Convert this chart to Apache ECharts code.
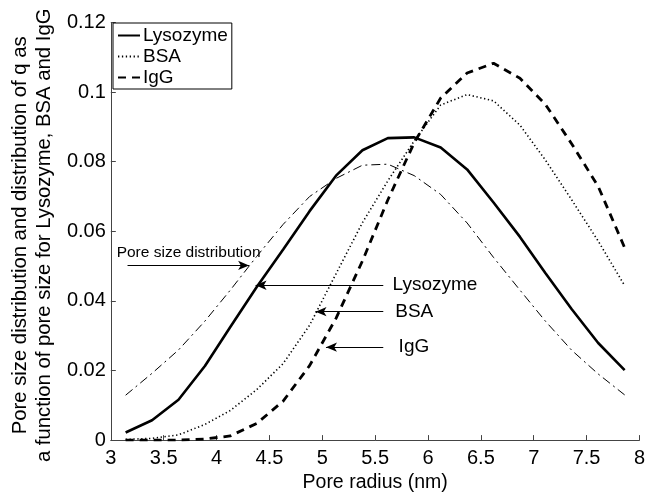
<!DOCTYPE html>
<html>
<head>
<meta charset="utf-8">
<script src="https://cdn.jsdelivr.net/npm/echarts@6/dist/echarts.min.js"></script>
<style>
html,body{margin:0;padding:0;background:#fff;}
#chart{width:648px;height:498px;}
</style>
</head>
<body>
<div id="chart"></div>
<script>
// Pore radius (nm)
const radius = [3.14,3.39,3.64,3.89,4.13,4.38,4.63,4.88,5.13,5.38,5.62,5.87,6.12,6.37,6.62,6.87,7.11,7.36,7.61,7.86];
const lysozyme = [0.0022,0.0057,0.0116,0.0213,0.0325,0.0440,0.0548,0.0658,0.0760,0.0833,0.0868,0.0870,0.0841,0.0778,0.0683,0.0584,0.0480,0.0376,0.0279,0.0201];
const bsa = [0.0002,0.0005,0.0015,0.0045,0.0085,0.0145,0.0220,0.0330,0.0478,0.0625,0.0745,0.0860,0.0963,0.0993,0.0975,0.0905,0.0805,0.0690,0.0572,0.0444];
const igg = [0,0,0,0.0003,0.0012,0.0048,0.0112,0.0214,0.0350,0.0515,0.0690,0.0855,0.0983,0.1055,0.1083,0.1040,0.0965,0.0851,0.0729,0.0553];
const poreDist = [0.0129,0.0192,0.0259,0.0342,0.0431,0.0528,0.0620,0.0700,0.0752,0.0790,0.0793,0.0760,0.0706,0.0624,0.0525,0.0431,0.0342,0.0258,0.0190,0.0130];

// Annotation arrows: [startX, tipX, y] and labels
const arrowStart = [3.158, 5.577, 5.577, 5.577];
const arrowTip = [4.308, 4.369, 4.936, 5.035];
const arrowY = [0.0502, 0.0445, 0.0369, 0.0267];
const labelText = ['Pore size distribution', 'Lysozyme', 'BSA', 'IgG'];
const labelX = [3.055, 5.665, 5.690, 5.722];
const labelY = [0.0539, 0.0445, 0.0369, 0.0267];

const FONT = 'Liberation Sans, Arial, Helvetica, sans-serif';
const pairs = arr => radius.map((x, i) => [x, arr[i]]);

const chart = echarts.init(document.getElementById('chart'), null, {renderer: 'canvas'});

const markData = arrowStart.map((s, i) => [
  {coord: [s, arrowY[i]]},
  {coord: [arrowTip[i], arrowY[i]]}
]);

const option = {
  animation: false,
  backgroundColor: '#fff',
  textStyle: {fontFamily: FONT},
  grid: {left: 106, right: 4, top: 22, bottom: 53, containLabel: false},
  legend: {
    data: ['Lysozyme', 'BSA', 'IgG'],
    orient: 'vertical',
    left: 113,
    top: 23,
    padding: [3, 4, 2, 4],
    itemGap: 2,
    itemWidth: 22,
    itemHeight: 10,
    borderColor: '#000',
    borderWidth: 1,
    backgroundColor: '#fff',
    itemStyle: {color: 'rgba(0,0,0,0)', borderColor: 'rgba(0,0,0,0)', borderWidth: 0},
    textStyle: {fontFamily: FONT, fontSize: 19, color: '#000', padding: [0, 0, 0, -2]},
    selectedMode: false
  },
  xAxis: {
    type: 'value',
    min: 3, max: 8, interval: 0.5,
    name: 'Pore radius (nm)',
    nameLocation: 'middle',
    nameGap: 31,
    nameTextStyle: {fontFamily: FONT, fontSize: 19.5, color: '#000'},
    axisLine: {show: true, onZero: false, lineStyle: {color: '#444', width: 1}},
    axisTick: {show: true, inside: true, length: 5, lineStyle: {color: '#444'}},
    axisLabel: {fontFamily: FONT, fontSize: 20, color: '#000', margin: 8},
    splitLine: {show: false}
  },
  yAxis: {
    type: 'value',
    min: 0, max: 0.12, interval: 0.02,
    name: 'Pore size distribution and distribution of q as\na function of pore size for Lysozyme, BSA and IgG',
    nameLocation: 'middle',
    nameRotate: 90,
    nameGap: 52,
    nameTextStyle: {fontFamily: FONT, fontSize: 20.3, color: '#000', lineHeight: 24, align: 'center', padding: [0, 8, 0, 0]},
    axisLine: {show: true, lineStyle: {color: '#444', width: 1}},
    axisTick: {show: true, inside: true, length: 5, lineStyle: {color: '#444'}},
    axisLabel: {fontFamily: FONT, fontSize: 20, color: '#000', margin: 5},
    splitLine: {show: false}
  },
  series: [
    {
      name: 'Lysozyme', type: 'line', data: pairs(lysozyme),
      symbol: 'none', showSymbol: false,
      lineStyle: {color: '#000', width: 2.6, type: 'solid'},
      itemStyle: {color: '#000'}
    },
    {
      name: 'BSA', type: 'line', data: pairs(bsa),
      symbol: 'none', showSymbol: false,
      lineStyle: {color: '#000', width: 1.6, type: [1.3, 2.6]},
      itemStyle: {color: '#000'}
    },
    {
      name: 'IgG', type: 'line', data: pairs(igg),
      symbol: 'none', showSymbol: false,
      lineStyle: {color: '#000', width: 2.8, type: [8, 6]},
      itemStyle: {color: '#000'}
    },
    {
      name: 'Pore size distribution', type: 'line', data: pairs(poreDist),
      symbol: 'none', showSymbol: false,
      lineStyle: {color: '#000', width: 1, type: [9, 4, 2, 4]},
      itemStyle: {color: '#000'},
      markLine: {
        silent: true,
        animation: false,
        symbol: ['none', 'arrow'],
        symbolSize: [7, 11],
        label: {show: false},
        lineStyle: {color: '#000', width: 1.2, type: 'solid'},
        emphasis: {disabled: true},
        data: markData
      }
    }
  ]
};

chart.setOption(option);

const graphics = labelText.map((t, i) => {
  const p = chart.convertToPixel({gridIndex: 0}, [labelX[i], labelY[i]]);
  return {
    type: 'text',
    x: p[0], y: p[1],
    silent: true,
    style: {
      text: t,
      fontFamily: FONT,
      fontSize: i === 0 ? 15.5 : 19,
      fill: '#000',
      align: 'left',
      verticalAlign: 'middle'
    }
  };
});
chart.setOption({graphic: graphics});
</script>
</body>
</html>
